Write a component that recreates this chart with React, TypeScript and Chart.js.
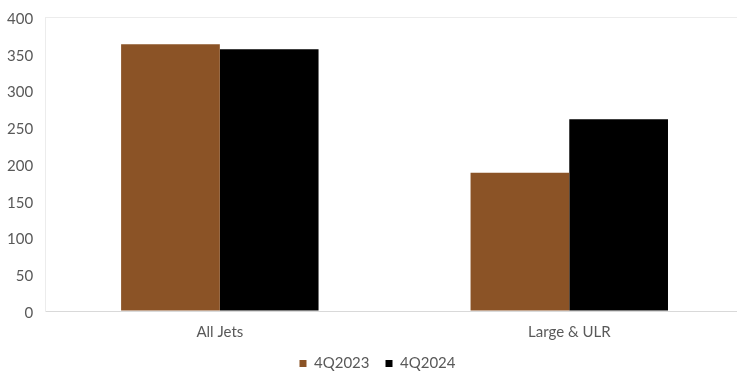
import React, { useEffect, useRef } from "react";
import { Chart, registerables } from "chart.js";

Chart.register(...registerables);

const categories = ["All Jets", "Large & ULR"];
const series2023 = [363, 188];
const series2024 = [356, 261];
const seriesLabels = ["4Q2023", "4Q2024"];
const yTicks = [0, 50, 100, 150, 200, 250, 300, 350, 400];

const FONT = "'Lato', 'DejaVu Sans', sans-serif";
const TEXT = "#595959";
const CANVAS_W = 749;
const CANVAS_H = 377;
const CANVAS_SHIFT_X = -5;
const CANVAS_SHIFT_Y = -4;
const LEGEND_SHIFT = 8;

// nudges the legend row to the right of the canvas centre
const legendOffset = {
  id: "legendOffset",
  afterLayout(chart: any) {
    if (chart.legend) {
      chart.legend.left += LEGEND_SHIFT;
      chart.legend.right += LEGEND_SHIFT;
    }
  },
};

export default function App() {
  const ref = useRef<HTMLCanvasElement | null>(null);

  useEffect(() => {
    if (!ref.current) return;
    const chart = new Chart(ref.current, {
      type: "bar",
      data: {
        labels: categories,
        datasets: [
          {
            label: seriesLabels[0],
            data: series2023,
            backgroundColor: "#8B5326",
            borderWidth: 0,
          },
          {
            label: seriesLabels[1],
            data: series2024,
            backgroundColor: "#000000",
            borderWidth: 0,
          },
        ],
      },
      plugins: [legendOffset],
      options: {
        animation: false,
        responsive: false,
        maintainAspectRatio: false,
        layout: { padding: { top: 3, right: 0, left: 0, bottom: -8 } },
        datasets: {
          bar: { categoryPercentage: 0.565, barPercentage: 1 },
        },
        plugins: {
          legend: {
            position: "bottom",
            labels: {
              boxWidth: 7,
              boxHeight: 7,
              padding: 16,
              color: TEXT,
              font: { family: FONT, size: 15 },
            },
          },
          tooltip: { enabled: false },
        },
        scales: {
          x: {
            grid: { display: false, drawTicks: true, tickLength: 13 },
            border: { display: true, color: "#d9d9d9", width: 1 },
            ticks: {
              color: TEXT,
              font: { family: FONT, size: 15 },
              padding: -1,
            },
          },
          y: {
            min: 0,
            max: 400,
            afterBuildTicks: (axis: any) => {
              axis.ticks = yTicks.map((v) => ({ value: v }));
            },
            grid: {
              drawTicks: false,
              color: (ctx: any) => (ctx.tick && ctx.tick.value === 400 ? "#ececec" : "rgba(0,0,0,0)"),
            },
            border: { display: true, color: "#ececec", width: 1 },
            ticks: {
              color: TEXT,
              font: { family: FONT, size: 15 },
              padding: 12,
              labelOffset: 2,
            },
          },
        },
      },
    });
    return () => chart.destroy();
  }, []);

  return (
    <div style={{ position: "fixed", left: 0, top: 0, width: 737, height: 373, overflow: "hidden", background: "#fff" }}>
      <canvas
        ref={ref}
        width={CANVAS_W}
        height={CANVAS_H}
        style={{ display: "block", position: "absolute", left: CANVAS_SHIFT_X, top: CANVAS_SHIFT_Y }}
      />
    </div>
  );
}
